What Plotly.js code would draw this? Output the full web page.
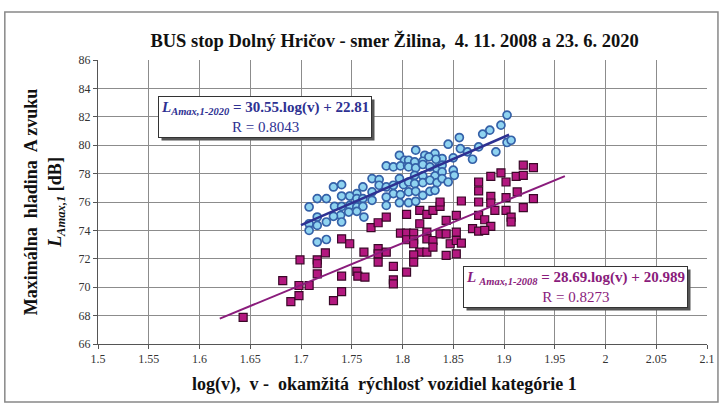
<!DOCTYPE html>
<html>
<head>
<meta charset="utf-8">
<script src="https://cdn.plot.ly/plotly-3.0.1.min.js"></script>
<style>html,body{margin:0;padding:0;background:#fff;}#chart{width:724px;height:410px;}</style>
</head>
<body>
<div id="chart"></div>
<script>
// Data
var x2020 = [1.797,1.802,1.784,1.791,1.798,1.805,1.770,1.777,1.801,1.797,1.732,1.740,1.761,1.777,1.784,1.791,1.755,1.770,1.791,1.798,1.716,1.725,1.740,1.748,1.755,1.761,1.784,1.708,1.733,1.740,1.748,1.755,1.761,1.770,1.784,1.797,1.739,1.747,1.755,1.732,1.716,1.762,1.740,1.708,1.716,1.725,1.708,1.716,1.725,
  1.903,1.886,1.879,1.897,1.856,1.845,1.857,1.875,1.892,1.903,1.907,1.864,1.869,1.850,1.813,1.822,1.832,1.839,1.806,1.812,1.820,1.826,1.833,1.806,1.813,1.820,1.827,1.834,1.839,1.850,1.851,1.812,1.820,1.832,1.839,1.806,1.812,1.820,1.827,1.834,1.839,1.845,1.806,1.813,1.820,1.827,1.832,1.806,1.813];
var y2020 = [79.29,78.94,78.54,78.47,78.54,78.59,77.65,77.58,77.22,77.65,77.06,77.22,77.06,77.18,77.06,77.18,76.59,76.71,76.59,76.52,76.24,76.24,76.42,76.42,76.24,76.24,76.35,75.65,75.69,75.69,75.76,75.65,75.69,76.12,75.76,75.95,75.06,75.29,75.34,74.99,74.94,74.94,74.59,74.47,74.35,74.59,74.00,73.18,73.36,
  82.12,81.06,80.78,81.41,80.54,80.07,79.76,79.88,79.53,80.19,80.35,79.53,79.01,79.11,79.65,79.29,79.41,79.06,78.94,78.82,78.87,79.18,79.01,78.47,78.40,78.64,78.47,78.35,78.59,78.24,77.88,77.88,77.84,77.84,78.12,77.41,77.29,77.36,77.53,77.36,77.65,77.41,76.71,76.75,76.47,76.75,76.82,75.95,76.05];

var x2008 = [1.643,1.682,1.690,1.698,1.698,1.699,1.708,1.716,1.716,1.716,1.724,1.732,1.740,1.740,1.740,1.748,1.755,1.756,1.763,1.762,
  1.769,1.776,1.784,1.776,1.776,1.784,1.776,1.791,1.791,1.791,1.804,1.804,1.798,1.804,1.811,1.804,1.811,1.811,1.817,1.817,1.817,1.811,1.811,1.824,1.824,1.824,1.824,1.830,1.830,1.837,1.837,1.837,1.830,1.843,1.843,1.843,1.847,
  1.919,1.929,1.912,1.919,1.897,1.887,1.875,1.902,1.875,1.913,1.858,1.875,1.887,1.887,1.902,1.929,1.891,1.902,1.919,1.907,1.907,1.853,1.875,1.881,1.887,1.869,1.875,1.881,1.853,1.853,1.858,1.853];
var y2008 = [67.88,70.47,68.99,69.41,70.12,71.93,70.12,71.93,71.65,70.94,72.42,69.06,69.69,70.78,73.41,73.06,71.11,70.78,70.71,72.47,
  74.19,74.54,74.94,72.71,72.35,72.47,71.76,71.46,70.52,70.24,71.06,75.13,73.81,73.81,73.81,73.34,73.34,73.06,75.41,74.47,72.47,72.28,71.76,75.13,73.88,73.41,72.47,75.41,73.29,75.69,76.00,73.76,72.82,74.71,73.76,72.24,73.06,
  78.59,78.42,77.81,77.88,78.05,77.81,77.41,77.41,76.78,76.71,76.07,76.00,76.40,75.93,76.31,76.24,75.41,75.41,75.60,74.94,74.59,75.06,75.06,74.75,74.28,74.12,73.95,74.00,73.88,73.29,73.11,72.35];

// Trendline x-extent (as drawn in the reference)
var trend2020X = [1.70, 1.905];
var trend2008X = [1.62, 1.96];

var xTickVals = [1.5,1.55,1.6,1.65,1.7,1.75,1.8,1.85,1.9,1.95,2,2.05,2.1];
var xTickText = ['1.5','1.55','1.6','1.65','1.7','1.75','1.8','1.85','1.9','1.95','2','2.05','2.1'];
var yTickVals = [66,68,70,72,74,76,78,80,82,84,86];

var titleText = 'BUS stop Dolný Hričov - smer Žilina,  4. 11. 2008 a 23. 6. 2020';
var xTitleText = 'log(v),  v -  okamžitá  rýchlosť vozidiel kategórie 1';
var eq2020 = '<b><i>L<sub>Amax,1-2020</sub></i> = 30.55.log(v) + 22.81</b><br>R = 0.8043';
var eq2008 = '<b><i>L <sub>Amax,1-2008</sub></i> = 28.69.log(v) + 20.989</b><br>R = 0.8273';

function fit(xs, ys, ext) {
  var n = xs.length, sx = 0, sy = 0, sxx = 0, sxy = 0;
  for (var i = 0; i < n; i++) { sx += xs[i]; sy += ys[i]; sxx += xs[i]*xs[i]; sxy += xs[i]*ys[i]; }
  var b = (n*sxy - sx*sy) / (n*sxx - sx*sx);
  var a = (sy - b*sx) / n;
  return ext.map(function (v) { return a + b*v; });
}

var serif = 'Liberation Serif, Times New Roman, serif';
var blueLine = '#2e3192';
var purple = '#8a1c7c';

var traces = [
  {x: x2020, y: y2020, type: 'scatter', mode: 'markers', name: '2020',
   marker: {symbol: 'circle', size: 8, color: '#8fd3f0', line: {color: '#3561a8', width: 1.7}}},
  {x: x2008, y: y2008, type: 'scatter', mode: 'markers', name: '2008',
   marker: {symbol: 'square', size: 8, color: '#b3187f', line: {color: '#3a0828', width: 1.2}}},
  {x: trend2020X, y: fit(x2020, y2020, trend2020X), type: 'scatter', mode: 'lines',
   line: {color: blueLine, width: 2.5}},
  {x: trend2008X, y: fit(x2008, y2008, trend2008X), type: 'scatter', mode: 'lines',
   line: {color: purple, width: 2}}
];

function box(text, x, y, col) {
  return {x: x, y: y, xref: 'x', yref: 'y', text: text, showarrow: false, xanchor: 'center', yanchor: 'middle',
     font: {family: serif, size: 15, color: col}, bgcolor: '#ffffff', borderwidth: 1, bordercolor: '#333333',
     borderpad: 2, align: 'center'};
}

var layout = {
  width: 724, height: 410,
  margin: {l: 98, r: 17, t: 60, b: 66},
  paper_bgcolor: '#ffffff', plot_bgcolor: '#ffffff',
  showlegend: false,
  font: {family: serif, color: '#222'},
  title: {text: '<b>' + titleText + '</b>', font: {family: serif, size: 18.5, color: '#111'},
          x: 0.545, xanchor: 'center', y: 0.9, yanchor: 'middle'},
  xaxis: {range: [1.5, 2.1], tickvals: xTickVals, ticktext: xTickText, showgrid: true,
          gridcolor: '#8c8c8c', gridwidth: 1, zeroline: false, showline: true, linecolor: '#555', linewidth: 1,
          ticks: 'outside', ticklen: 4, tickcolor: '#555', tickfont: {family: serif, size: 12, color: '#333'}},
  yaxis: {range: [66, 86], tickvals: yTickVals, showgrid: true,
          gridcolor: '#8c8c8c', gridwidth: 1, zeroline: false, showline: true, linecolor: '#555', linewidth: 1,
          ticks: 'outside', ticklen: 4, tickcolor: '#555', tickfont: {family: serif, size: 12, color: '#333'},
          title: {text: '<b>Maximálna  hladina  A zvuku<br><i>L<sub>Amax,1</sub></i> [dB]</b>', font: {family: serif, size: 18, color: '#111'}, standoff: 12}},
  annotations: [
    box(eq2020, 1.665, 82.0, blueLine),
    box(eq2008, 1.97, 70.0, purple),
    {xref: 'paper', yref: 'paper', x: 0.47, y: -0.141, xanchor: 'center', yanchor: 'middle', showarrow: false,
     text: '<b>' + xTitleText + '</b>', font: {family: serif, size: 18, color: '#111'}}
  ],
  shapes: [
    {type: 'rect', xref: 'paper', yref: 'paper', x0: -0.153, x1: 1.018, y0: -0.204, y1: 1.169,
     line: {color: '#888', width: 1.5}, fillcolor: 'rgba(0,0,0,0)', layer: 'below'}
  ]
};

Plotly.newPlot('chart', traces, layout, {displayModeBar: false, staticPlot: true}).then(function (gd) {
  // drop shadows behind the two equation boxes, measured from their rendered size
  var sz = gd._fullLayout._size;
  var base = gd.getBoundingClientRect();
  var bgs = gd.querySelectorAll('.annotation .bg');
  var shapes = layout.shapes.slice();
  for (var i = 0; i < 2 && i < bgs.length; i++) {
    var r = bgs[i].getBoundingClientRect();
    var l = r.left - base.left + 3, rt = r.right - base.left + 3;
    var t = r.top - base.top + 3, b = r.bottom - base.top + 3;
    shapes.push({type: 'rect', xref: 'paper', yref: 'paper', layer: 'above',
      x0: (l - sz.l) / sz.w, x1: (rt - sz.l) / sz.w,
      y0: (sz.t + sz.h - b) / sz.h, y1: (sz.t + sz.h - t) / sz.h,
      line: {width: 0}, fillcolor: '#555555'});
  }
  Plotly.relayout(gd, {shapes: shapes});
});
</script>
</body>
</html>
